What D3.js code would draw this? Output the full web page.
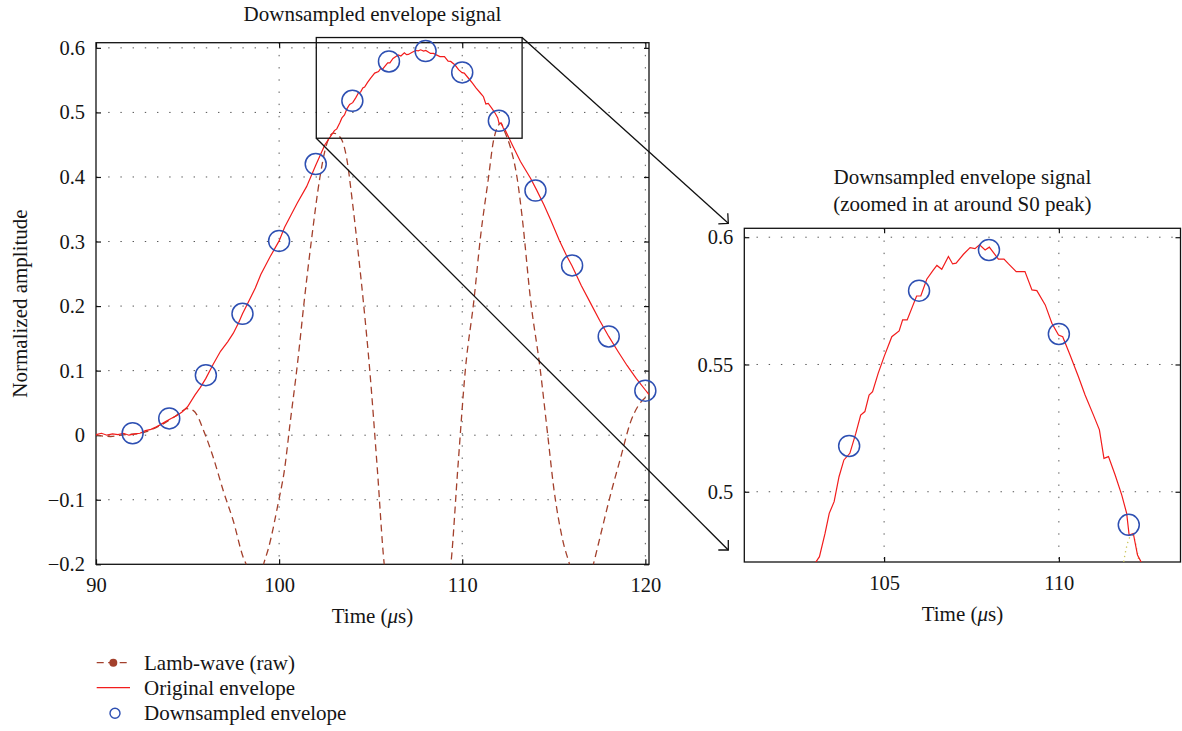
<!DOCTYPE html>
<html>
<head>
<meta charset="utf-8">
<script src="https://cdn.jsdelivr.net/npm/d3@7"></script>
<style>
  body { margin: 0; background: #fff; }
  svg text { font-family: "Liberation Serif", "Times New Roman", serif; fill: #151515; }
</style>
</head>
<body>
<div id="chart"></div>
<script>
// Original envelope [time (us), amplitude]
var envelope = [
    [90.0, 0.001], [90.3, 0.003], [90.6, 0.000], [90.9, 0.002], [91.2, 0.001], [91.5, 0.003],
    [91.8, 0.000], [92.1, 0.002], [92.4, 0.003], [92.7, 0.007], [93.0, 0.009], [93.3, 0.013],
    [93.5, 0.016], [93.8, 0.021], [94.1, 0.026], [94.4, 0.030], [94.7, 0.036], [95.0, 0.044],
    [95.4, 0.062], [95.7, 0.074], [96.0, 0.088], [96.4, 0.110], [96.8, 0.130], [97.2, 0.145],
    [97.5, 0.158], [97.8, 0.175], [98.0, 0.188], [98.35, 0.208], [98.7, 0.228], [99.0, 0.249],
    [99.5, 0.276], [100.0, 0.301], [100.3, 0.322], [100.65, 0.341], [101.0, 0.360], [101.5, 0.385],
    [102.0, 0.418], [102.5, 0.450], [103.02, 0.4718], [103.15, 0.4745], [103.31, 0.4836],
    [103.43, 0.4915], [103.57, 0.4961], [103.71, 0.5059], [103.85, 0.5125], [104.02, 0.5151],
    [104.19, 0.5229], [104.33, 0.5301], [104.45, 0.5315], [104.57, 0.538], [104.67, 0.5393],
    [104.83, 0.5465], [105.0, 0.5531], [105.22, 0.5609], [105.43, 0.5632], [105.53, 0.5675],
    [105.66, 0.5675], [105.93, 0.5769], [106.05, 0.5769], [106.22, 0.5835], [106.4, 0.587],
    [106.51, 0.5889], [106.65, 0.5874], [106.84, 0.5924], [106.96, 0.5895], [107.06, 0.5898],
    [107.27, 0.5933], [107.46, 0.5959], [107.6, 0.5955], [107.73, 0.597], [107.89, 0.595],
    [108.01, 0.5961], [108.27, 0.5914], [108.43, 0.5914], [108.56, 0.5895], [108.78, 0.5865],
    [109.03, 0.5865], [109.23, 0.5793], [109.37, 0.579], [109.61, 0.5734], [109.8, 0.5662],
    [109.99, 0.5616], [110.11, 0.5609], [110.32, 0.5537], [110.56, 0.5452], [110.75, 0.538],
    [110.99, 0.5301], [111.16, 0.5243], [111.29, 0.5131], [111.42, 0.5138], [111.61, 0.5066],
    [111.8, 0.4987], [111.94, 0.4915], [112.01, 0.483], [112.13, 0.4836], [112.25, 0.4751],
    [112.35, 0.4725], [112.73, 0.450], [113.18, 0.424], [113.73, 0.398], [114.06, 0.380],
    [114.46, 0.357], [114.82, 0.334], [115.3, 0.302], [115.7, 0.278], [116.0, 0.262],
    [116.5, 0.232], [117.0, 0.205], [117.5, 0.178], [118.0, 0.153], [118.5, 0.130],
    [119.0, 0.108], [119.5, 0.088], [120.0, 0.070], [120.2, 0.063]
];

// Lamb-wave (raw) [time (us), amplitude], troughs run below the axis
var lambWave = [
    [90.0, 0.000], [90.8, -0.002], [91.6, 0.001], [92.3, 0.002], [92.8, 0.006], [93.5, 0.015],
    [94.2, 0.027], [94.7, 0.037], [94.95, 0.041], [95.32, 0.038], [95.96, 0.001], [96.41, -0.035],
    [96.96, -0.087], [97.5, -0.133], [98.05, -0.19], [98.2, -0.2], [98.65, -0.26], [99.15, -0.2],
    [99.42, -0.175], [99.97, -0.1025], [100.28, -0.056], [100.61, 0.021], [101.0, 0.11],
    [101.38, 0.21], [101.8, 0.31], [102.22, 0.398], [102.54, 0.445], [102.96, 0.468],
    [103.37, 0.46], [103.69, 0.429], [104.0, 0.362], [104.31, 0.285], [104.6, 0.207],
    [104.94, 0.104], [105.36, -0.051], [105.74, -0.2], [107.55, -0.45], [109.38, -0.2],
    [109.76, -0.051], [110.18, 0.104], [110.63, 0.207], [111.01, 0.31], [111.43, 0.398],
    [111.7, 0.455], [111.85, 0.472], [112.1, 0.483], [112.35, 0.468], [112.64, 0.445],
    [113.0, 0.398], [113.28, 0.336], [113.73, 0.21], [114.25, 0.104], [114.67, 0.0],
    [115.0, -0.082], [115.46, -0.159], [115.86, -0.2], [116.5, -0.26], [117.16, -0.2],
    [117.56, -0.154], [118.1, -0.092], [118.65, -0.035], [119.2, 0.021], [119.6, 0.045],
    [120.0, 0.058], [120.2, 0.062]
];

// Downsampled envelope
var dsTime = [92, 94, 96, 98, 100, 102, 104, 106, 108, 110, 112, 114, 116, 118, 120];
var dsAmp = [0.003, 0.026, 0.093, 0.188, 0.301, 0.420, 0.518, 0.579, 0.595, 0.562, 0.487, 0.379, 0.263, 0.153, 0.069];

// Ticks
var mainXTicks = [90, 100, 110, 120];
var mainYTicks = [-0.2, -0.1, 0, 0.1, 0.2, 0.3, 0.4, 0.5, 0.6];
var zoomXTicks = [105, 110];
var zoomYTicks = [0.5, 0.55, 0.6];

// Zoom window marked on the main plot
var zoomBoxTime = [102.03, 113.27];
var zoomBoxAmp = [0.46, 0.616];

var svgWidth = 1182;
var svgHeight = 731;

var mainBox = { left: 96, top: 42.7, right: 649, bottom: 564.3 };
var zoomBox = { left: 744.3, top: 228.3, right: 1180.5, bottom: 562 };

var svg = d3.select('#chart').append('svg')
    .attr('width', svgWidth)
    .attr('height', svgHeight)
    .style('background', '#fff');

var defs = svg.append('defs');

// Scales
var xMain = d3.scaleLinear().domain([90, 120.2]).range([mainBox.left, mainBox.right]);
var yMain = d3.scaleLinear().domain([-0.2, 0.608]).range([mainBox.bottom, mainBox.top]);
var xZoom = d3.scaleLinear().domain([101, 113.48]).range([zoomBox.left, zoomBox.right]);
var yZoom = d3.scaleLinear().domain([0.4724, 0.6035]).range([zoomBox.bottom, zoomBox.top]);

function fmtTick(d) {
    if (d === 0) return '0';
    var s = String(+d.toFixed(3));
    return s.replace('-', '\u2212');
}

function drawPanel(id, box, x, y, xTicks, yTicks) {
    var w = box.right - box.left;
    var h = box.bottom - box.top;

    defs.append('clipPath').attr('id', id)
        .append('rect')
        .attr('x', box.left).attr('y', box.top)
        .attr('width', w).attr('height', h);

    var g = svg.append('g');

    // dotted grid
    g.selectAll('.vgrid')
        .data(xTicks.filter(function (d) { return x(d) > box.left + 1 && x(d) < box.right - 1; }))
        .enter().append('line')
        .attr('x1', d => x(d)).attr('x2', d => x(d))
        .attr('y1', box.top).attr('y2', box.bottom)
        .attr('stroke', '#555').attr('stroke-width', 1)
        .attr('stroke-dasharray', '1.4,10.8');

    g.selectAll('.hgrid')
        .data(yTicks.filter(function (d) { return y(d) > box.top + 1 && y(d) < box.bottom - 1; }))
        .enter().append('line')
        .attr('x1', box.left).attr('x2', box.right)
        .attr('y1', d => y(d)).attr('y2', d => y(d))
        .attr('stroke', '#555').attr('stroke-width', 1)
        .attr('stroke-dasharray', '1.4,10.8');

    // axes with inward ticks
    var bottom = g.append('g')
        .attr('transform', `translate(0, ${box.bottom})`)
        .call(d3.axisBottom(x).tickValues(xTicks).tickSize(-5).tickPadding(13).tickFormat(fmtTick));
    var left = g.append('g')
        .attr('transform', `translate(${box.left}, 0)`)
        .call(d3.axisLeft(y).tickValues(yTicks).tickSize(-5).tickPadding(11).tickFormat(fmtTick));
    var top = g.append('g')
        .attr('transform', `translate(0, ${box.top})`)
        .call(d3.axisTop(x).tickValues(xTicks).tickSize(-5).tickFormat(''));
    var right = g.append('g')
        .attr('transform', `translate(${box.right}, 0)`)
        .call(d3.axisRight(y).tickValues(yTicks).tickSize(-5).tickFormat(''));

    [bottom, left, top, right].forEach(function (a) {
        a.select('.domain').remove();
        a.selectAll('line').attr('stroke', '#111').attr('stroke-width', 1.2);
        a.selectAll('text')
            .attr('fill', '#151515')
            .style('font-size', '20.5px')
            .style('font-family', '"Liberation Serif", "Times New Roman", serif');
    });

    // frame
    g.append('rect')
        .attr('x', box.left).attr('y', box.top)
        .attr('width', w).attr('height', h)
        .attr('fill', 'none').attr('stroke', '#111').attr('stroke-width', 1.3);

    return g;
}

var gMain = drawPanel('clipMain', mainBox, xMain, yMain, mainXTicks, mainYTicks);
var gZoom = drawPanel('clipZoom', zoomBox, xZoom, yZoom, zoomXTicks, zoomYTicks);

// Main plot lines
var rawLineMain = d3.line().x(d => xMain(d[0])).y(d => yMain(d[1])).curve(d3.curveMonotoneX);
var envLineMain = d3.line().x(d => xMain(d[0])).y(d => yMain(d[1]));

gMain.append('path')
    .datum(lambWave)
    .attr('clip-path', 'url(#clipMain)')
    .attr('d', rawLineMain)
    .attr('fill', 'none')
    .attr('stroke', '#a3402c')
    .attr('stroke-width', 1.3)
    .attr('stroke-dasharray', '7,4.5');

gMain.append('path')
    .datum(envelope)
    .attr('clip-path', 'url(#clipMain)')
    .attr('d', envLineMain)
    .attr('fill', 'none')
    .attr('stroke', '#f21c1c')
    .attr('stroke-width', 1.2);

gMain.selectAll('.ds')
    .data(dsTime)
    .enter().append('circle')
    .attr('cx', d => xMain(d))
    .attr('cy', (d, i) => yMain(dsAmp[i]))
    .attr('r', 10.5)
    .attr('fill', 'none')
    .attr('stroke', '#2d4fb2')
    .attr('stroke-width', 1.5);

// Zoomed plot lines
var rawLineZoom = d3.line().x(d => xZoom(d[0])).y(d => yZoom(d[1])).curve(d3.curveMonotoneX);
var envLineZoom = d3.line().x(d => xZoom(d[0])).y(d => yZoom(d[1]));

gZoom.append('path')
    .datum(lambWave)
    .attr('clip-path', 'url(#clipZoom)')
    .attr('d', rawLineZoom)
    .attr('fill', 'none')
    .attr('stroke', '#c9c45a')
    .attr('stroke-width', 1.3)
    .attr('stroke-dasharray', '1.3,3.5');

gZoom.append('path')
    .datum(envelope)
    .attr('clip-path', 'url(#clipZoom)')
    .attr('d', envLineZoom)
    .attr('fill', 'none')
    .attr('stroke', '#f21c1c')
    .attr('stroke-width', 1.2);

var xz = xZoom.domain(), yz = yZoom.domain();
gZoom.selectAll('.ds')
    .data(dsTime.map((t, i) => [t, dsAmp[i]]).filter(d => d[0] >= xz[0] && d[0] <= xz[1] && d[1] >= yz[0] && d[1] <= yz[1]))
    .enter().append('circle')
    .attr('cx', d => xZoom(d[0]))
    .attr('cy', d => yZoom(d[1]))
    .attr('r', 10.5)
    .attr('fill', 'none')
    .attr('stroke', '#2d4fb2')
    .attr('stroke-width', 1.5);

// Zoom window and arrows
var bx0 = xMain(zoomBoxTime[0]), bx1 = xMain(zoomBoxTime[1]);
var by0 = yMain(zoomBoxAmp[1]), by1 = yMain(zoomBoxAmp[0]);

svg.append('rect')
    .attr('x', bx0).attr('y', by0)
    .attr('width', bx1 - bx0).attr('height', by1 - by0)
    .attr('fill', 'none').attr('stroke', '#111').attr('stroke-width', 1.3);

var arrows = [
    { from: [bx1, by0], to: [zoomBox.left - 16, zoomBox.top - 5] },
    { from: [bx0, by1], to: [zoomBox.left - 16, zoomBox.bottom - 12] }
];

arrows.forEach(function (a) {
    var ang = Math.atan2(a.to[1] - a.from[1], a.to[0] - a.from[0]);
    var len = 10;
    var w1 = [a.to[0] - len * Math.cos(ang - Math.PI / 4), a.to[1] - len * Math.sin(ang - Math.PI / 4)];
    var w2 = [a.to[0] - len * Math.cos(ang + Math.PI / 4), a.to[1] - len * Math.sin(ang + Math.PI / 4)];
    svg.append('line')
        .attr('x1', a.from[0]).attr('y1', a.from[1])
        .attr('x2', a.to[0]).attr('y2', a.to[1])
        .attr('stroke', '#111').attr('stroke-width', 1.3);
    svg.append('path')
        .attr('d', `M${w1[0]},${w1[1]}L${a.to[0]},${a.to[1]}L${w2[0]},${w2[1]}`)
        .attr('fill', 'none').attr('stroke', '#111').attr('stroke-width', 1.3);
});

// Titles and labels
svg.append('text')
    .attr('x', (mainBox.left + mainBox.right) / 2).attr('y', 21)
    .attr('text-anchor', 'middle').style('font-size', '21px')
    .text('Downsampled envelope signal');

svg.append('text')
    .attr('x', (zoomBox.left + zoomBox.right) / 2).attr('y', 184)
    .attr('text-anchor', 'middle').style('font-size', '21px')
    .text('Downsampled envelope signal');

svg.append('text')
    .attr('x', (zoomBox.left + zoomBox.right) / 2).attr('y', 211)
    .attr('text-anchor', 'middle').style('font-size', '21px')
    .text('(zoomed in at around S0 peak)');

function timeLabel(cx, cy) {
    var t = svg.append('text')
        .attr('x', cx).attr('y', cy)
        .attr('text-anchor', 'middle').style('font-size', '21px');
    t.append('tspan').text('Time (');
    t.append('tspan').style('font-style', 'italic').text('\u03bc');
    t.append('tspan').text('s)');
}
timeLabel((mainBox.left + mainBox.right) / 2, 623);
timeLabel((zoomBox.left + zoomBox.right) / 2, 621);

svg.append('text')
    .attr('transform', `translate(27, ${(mainBox.top + mainBox.bottom) / 2}) rotate(-90)`)
    .attr('text-anchor', 'middle').style('font-size', '21px')
    .text('Normalized amplitude');

// Legend
var legend = svg.append('g');
var legendY = [662.7, 687.7, 713.3];

legend.append('line')
    .attr('x1', 96.7).attr('x2', 130).attr('y1', legendY[0]).attr('y2', legendY[0])
    .attr('stroke', '#a3402c').attr('stroke-width', 1.3).attr('stroke-dasharray', '7,4.5');
legend.append('circle')
    .attr('cx', 113.3).attr('cy', legendY[0]).attr('r', 4).attr('fill', '#a3402c');
legend.append('line')
    .attr('x1', 96.7).attr('x2', 130).attr('y1', legendY[1]).attr('y2', legendY[1])
    .attr('stroke', '#f21c1c').attr('stroke-width', 1.2);
legend.append('circle')
    .attr('cx', 115).attr('cy', legendY[2]).attr('r', 5)
    .attr('fill', 'none').attr('stroke', '#2d4fb2').attr('stroke-width', 1.4);

var legendText = ['Lamb-wave (raw)', 'Original envelope', 'Downsampled envelope'];
legend.selectAll('.lt')
    .data(legendText)
    .enter().append('text')
    .attr('x', 144)
    .attr('y', (d, i) => legendY[i])
    .attr('dy', '0.33em')
    .style('font-size', '21px')
    .text(d => d);
</script>
</body>
</html>
